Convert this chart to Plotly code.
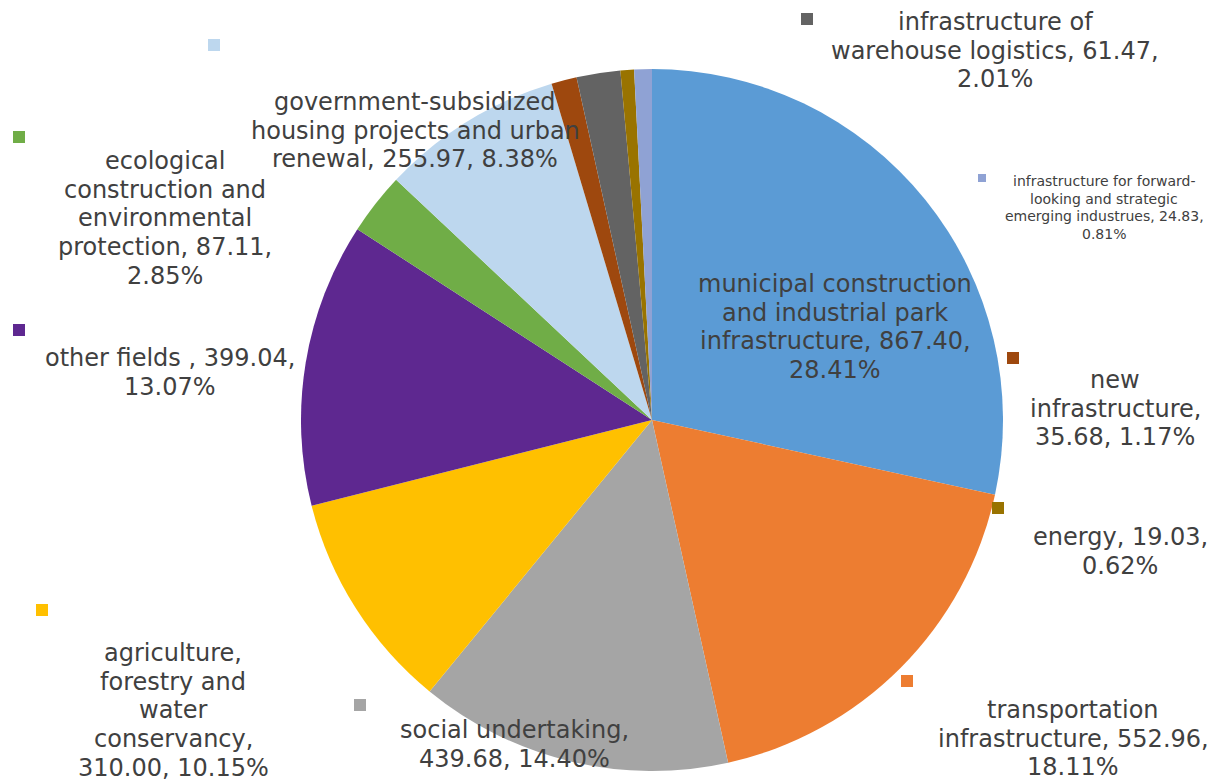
import plotly.graph_objects as go

W, H = 1220, 781

categories = [
    "municipal construction and industrial park infrastructure",
    "transportation infrastructure",
    "social undertaking",
    "agriculture, forestry and water conservancy",
    "other fields ",
    "ecological construction and environmental protection",
    "government-subsidized housing projects and urban renewal",
    "new infrastructure",
    "infrastructure of warehouse logistics",
    "energy",
    "infrastructure for forward-looking and strategic emerging industrues",
]
values = [867.40, 552.96, 439.68, 310.00, 399.04, 87.11, 255.97, 35.68, 61.47, 19.03, 24.83]
percents = ["28.41%", "18.11%", "14.40%", "10.15%", "13.07%", "2.85%", "8.38%", "1.17%", "2.01%", "0.62%", "0.81%"]
colors = ["#5B9BD5", "#ED7D31", "#A5A5A5", "#FFC000", "#5E2890", "#70AD47",
          "#BDD7EE", "#9E480E", "#636363", "#997300", "#8FA2D4"]

# label text broken into lines as in the reference
label_lines = [
    ["municipal construction", "and industrial park", "infrastructure, 867.40,", "28.41%"],
    ["transportation", "infrastructure, 552.96,", "18.11%"],
    ["social undertaking,", "439.68, 14.40%"],
    ["agriculture,", "forestry and", "water", "conservancy,", "310.00, 10.15%"],
    ["other fields , 399.04,", "13.07%"],
    ["ecological", "construction and", "environmental", "protection, 87.11,", "2.85%"],
    ["government-subsidized", "housing projects and urban", "renewal, 255.97, 8.38%"],
    ["new", "infrastructure,", "35.68, 1.17%"],
    ["infrastructure of", "warehouse logistics, 61.47,", "2.01%"],
    ["energy, 19.03,", "0.62%"],
    ["infrastructure for forward-", "looking and strategic", "emerging industrues, 24.83,", "0.81%"],
]

# layout: label centre x and first-line y (px), line spacing, font size; legend squares
label_pos = [(835, 284), (1073, 710), (514, 730), (173, 653), (170, 358), (165, 161),
             (415, 102), (1115, 380), (995, 22), (1120, 537), (1104, 181)]
font_sizes = [24, 24, 24, 24, 24, 24, 24, 24, 24, 24, 14]
line_gap = [28.7, 28.7, 28.7, 28.7, 28.7, 28.7, 28.7, 28.7, 28.7, 28.7, 17.6]
square_pos = [None, (907, 681), (360, 705), (42, 610), (19, 330), (19, 137),
              (214, 45), (1013, 358), (807, 19), (998, 508), (982, 178)]
square_size = [12, 12, 12, 12, 12, 12, 12, 12, 12, 12, 8]


def px(x):
    return x / W


def py(y):
    return 1 - y / H


cx, cy, r = 652, 420, 351

fig = go.Figure(go.Pie(
    labels=categories,
    values=values,
    marker=dict(colors=colors, line=dict(width=0)),
    sort=False,
    direction="clockwise",
    rotation=0,
    textinfo="none",
    hoverinfo="label+value+percent",
    showlegend=False,
    domain=dict(x=[px(cx - r), px(cx + r)], y=[py(cy + r), py(cy - r)]),
))

annotations = []
shapes = []
for i, lines in enumerate(label_lines):
    lx, ly = label_pos[i]
    for k, line in enumerate(lines):
        annotations.append(dict(
            x=px(lx), y=py(ly + k * line_gap[i]), xref="paper", yref="paper",
            text=line, showarrow=False,
            xanchor="center", yanchor="middle", align="center",
            font=dict(family="DejaVu Sans", size=font_sizes[i], color="#404040"),
        ))
    if square_pos[i] is not None:
        sx, sy = square_pos[i]
        h = square_size[i] / 2
        shapes.append(dict(
            type="rect", xref="paper", yref="paper",
            x0=px(sx - h), x1=px(sx + h), y0=py(sy + h), y1=py(sy - h),
            fillcolor=colors[i], line=dict(width=0),
        ))

fig.update_layout(
    width=W, height=H,
    margin=dict(l=0, r=0, t=0, b=0),
    paper_bgcolor="white",
    plot_bgcolor="white",
    annotations=annotations,
    shapes=shapes,
)

fig.write_html("out.html")
